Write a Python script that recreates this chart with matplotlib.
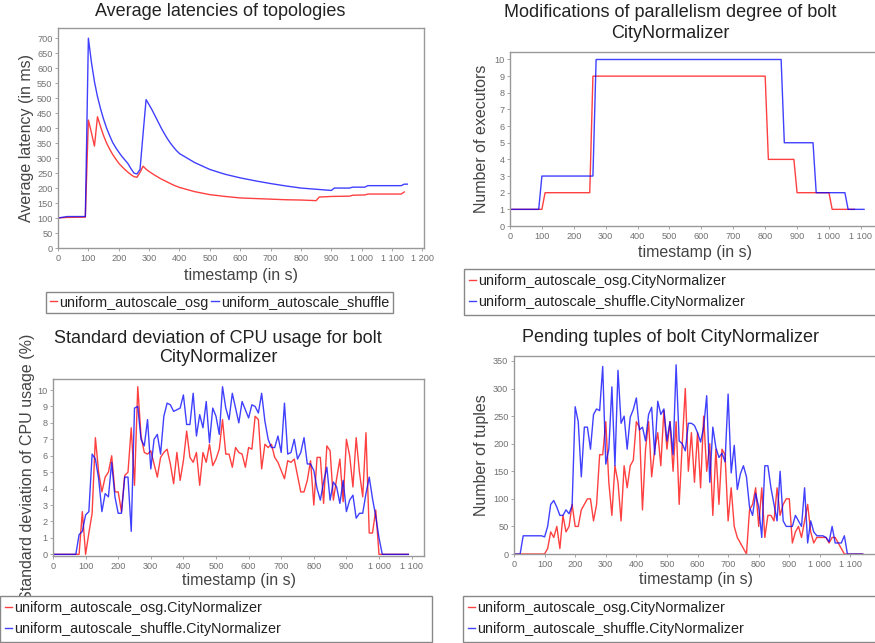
import matplotlib
matplotlib.use("Agg")
import matplotlib.pyplot as plt
from matplotlib.ticker import FuncFormatter, MultipleLocator

plt.rcParams['font.family'] = ['Liberation Sans', 'DejaVu Sans']

W, H = 875, 643

OSG = "uniform_autoscale_osg"
SHUFFLE = "uniform_autoscale_shuffle"

# Average latency (ms)
lat_t_osg = [0, 10, 30, 90, 100, 110, 120, 130, 140, 150, 160, 170, 180, 190, 200,
             210, 220, 230, 240, 250, 260, 270, 280, 290, 300, 320, 340, 360, 380,
             400, 450, 500, 550, 600, 650, 700, 750, 800, 850, 860, 900, 960, 970,
             1010, 1020, 1130, 1140]
lat_osg = [100, 101, 102, 103, 427, 385, 340, 438, 405, 375, 350, 330, 312, 297, 283,
           272, 262, 253, 245, 238, 236, 252, 273, 263, 255, 242, 230, 220, 210,
           202, 188, 178, 172, 167, 165, 163, 161, 160, 158, 170, 172, 173, 176,
           177, 180, 180, 187]
lat_t_shuffle = [0, 30, 90, 100, 110, 120, 130, 140, 150, 160, 170, 180, 190, 200,
                 210, 220, 230, 240, 250, 260, 270, 280, 290, 300, 310, 320, 330, 340,
                 350, 360, 370, 380, 390, 400, 450, 500, 550, 600, 650, 700, 750, 800,
                 850, 900, 910, 960, 970, 1010, 1020, 1130, 1140, 1150]
lat_shuffle = [100, 105, 105, 700, 620, 555, 505, 465, 430, 400, 375, 352, 335, 320,
               306, 294, 282, 265, 250, 247, 262, 380, 495, 478, 460, 440, 420, 400,
               382, 365, 350, 337, 325, 315, 285, 262, 246, 234, 224, 215, 207, 200,
               196, 192, 200, 200, 203, 203, 208, 208, 213, 213]

# Number of executors of CityNormalizer
exec_t_osg = [0, 100, 110, 250, 260, 800, 810, 890, 900, 1000, 1010, 1080]
exec_osg = [1, 1, 2, 2, 9, 9, 4, 4, 2, 2, 1, 1]
exec_t_shuffle = [0, 90, 100, 260, 270, 850, 860, 950, 960, 1050, 1060, 1110]
exec_shuffle = [1, 1, 3, 3, 10, 10, 5, 5, 2, 2, 1, 1]

# Standard deviation of CPU usage (%), one sample every 10 s
cpu_t = list(range(0, 1100, 10))
cpu_osg = [
    0, 0, 0, 0, 0, 0, 0, 0, 0, 2.6,                  # 0-90
    0, 1.3, 2.5, 7.1, 5.0, 3.8, 4.7, 5.0, 6.0, 3.8,  # 100-190
    3.8, 2.6, 4.8, 5.0, 7.7, 4.2, 10.2, 7.2, 6.2, 6.1,
    6.3, 5.5, 4.7, 5.9, 6.2, 6.4, 5.5, 4.3, 6.2, 4.5,
    5.7, 7.5, 5.9, 5.6, 6.2, 4.2, 6.2, 5.6, 6.7, 5.4,
    5.8, 6.4, 8.2, 6.1, 6.1, 5.3, 6.5, 6.2, 6.1, 5.3,
    6.5, 6.4, 8.4, 8.2, 5.2, 6.7, 6.5, 6.7, 5.9, 5.6,
    5.1, 4.6, 5.7, 5.6, 5.8, 4.8, 3.8, 3.8, 4.5, 5.7,
    3.0, 5.9, 5.9, 3.1, 6.6, 6.3, 3.3, 4.6, 5.8, 3.2,
    7.0, 6.0, 4.1, 7.1, 5.0, 3.5, 7.4, 1.3, 1.3, 2.7,
    0, 0, 0, 0, 0, 0, 0, 0, 0, 0,                    # 1000-1090
]
cpu_shuffle = [
    0, 0, 0, 0, 0, 0, 0, 0, 1.2, 1.4,
    2.4, 2.6, 6.1, 5.8, 4.6, 2.6, 3.7, 3.5, 5.6, 3.5,
    2.5, 2.5, 4.7, 4.7, 1.4, 8.9, 9.0, 7.0, 6.6, 8.2,
    5.2, 7.0, 7.3, 6.1, 8.4, 9.2, 9.1, 8.7, 8.8, 8.9,
    9.7, 7.9, 7.9, 9.8, 7.2, 8.5, 7.7, 9.3, 6.8, 8.9,
    8.4, 7.3, 10.2, 8.9, 8.2, 9.8, 8.9, 8.0, 9.3, 8.8,
    8.3, 9.1, 9.0, 8.6, 9.8, 8.1, 7.0, 6.5, 6.5, 7.2,
    6.2, 9.2, 6.1, 6.2, 7.0, 5.8, 6.2, 7.1, 5.5, 5.5,
    5.1, 4.0, 3.3, 4.4, 5.3, 3.3, 4.4, 4.1, 3.1, 4.5,
    2.6, 3.3, 3.6, 2.2, 2.5, 2.5, 3.7, 4.7, 3.4, 2.3,
    1.0, 0, 0, 0, 0, 0, 0, 0, 0, 0,
]

# Pending tuples, one sample every 10 s
tup_t = list(range(0, 1150, 10))
tup_osg = [
    0, 0, 0, 0, 0, 0, 0, 0, 0, 0,
    0, 10, 40, 30, 50, 10, 70, 40, 50, 90,
    50, 50, 80, 90, 100, 100, 60, 90, 180, 180,
    240, 130, 70, 160, 130, 60, 160, 120, 160, 170,
    240, 230, 80, 190, 240, 140, 190, 220, 160, 260,
    190, 240, 150, 240, 90, 200, 300, 150, 220, 130,
    220, 120, 250, 150, 200, 70, 190, 90, 190, 180,
    60, 120, 50, 30, 20, 10, 0, 80, 90, 120,
    50, 120, 30, 70, 70, 60, 120, 70, 90, 100,
    100, 20, 40, 50, 30, 60, 90, 40, 20, 30,
    30, 30, 30, 20, 30, 30, 20, 10, 0, 0,
    0, 0, 0, 0, 0,
]
tup_shuffle = [
    0, 0, 0, 33, 33, 33, 33, 33, 33, 33,
    31, 50, 90, 97, 85, 70, 70, 80, 73, 88,
    267, 240, 140, 230, 230, 190, 253, 263, 260, 340,
    163, 190, 303, 160, 333, 237, 250, 190, 248, 262,
    283, 225, 230, 205, 253, 266, 180, 277, 253, 263,
    205, 240, 180, 343, 205, 200, 187, 237, 237, 233,
    220, 203, 230, 287, 130, 230, 193, 175, 183, 167,
    290, 147, 197, 117, 145, 160, 140, 85, 70, 110,
    85, 30, 160, 160, 120, 90, 60, 150, 60, 50,
    50, 50, 70, 60, 50, 120, 20, 60, 40, 33,
    33, 33, 30, 22, 50, 20, 20, 20, 33, 0,
    0, 0, 0, 0, 0,
]

RED = '#ff0000'
BLUE = '#0000ff'
GRID_GRAY = '#999999'
TICK_GRAY = '#707070'
LABEL_GRAY = '#444444'


def space_thousands(v, pos):
    return f"{int(round(v)):,}".replace(",", " ")


def px_rect(left, top, right, bottom):
    return [left / W, 1 - bottom / H, (right - left) / W, (bottom - top) / H]


def style_axes(ax, xlim, ylim, xstep, ystep, xlabel, ylabel, xlab_y, ylab_x):
    ax.set_xlim(*xlim)
    ax.set_ylim(*ylim)
    ax.xaxis.set_major_locator(MultipleLocator(xstep))
    ax.yaxis.set_major_locator(MultipleLocator(ystep))
    ax.xaxis.set_major_formatter(FuncFormatter(space_thousands))
    ax.yaxis.set_major_formatter(FuncFormatter(space_thousands))
    ax.tick_params(direction='out', length=2, width=0.6, color=GRID_GRAY,
                   labelsize=6.6, labelcolor=TICK_GRAY, pad=2)
    for sp in ax.spines.values():
        sp.set_color(GRID_GRAY)
        sp.set_linewidth(1.0)
    ax.set_xlabel(xlabel, fontsize=11.5, color=LABEL_GRAY, va='center')
    ax.set_ylabel(ylabel, fontsize=11.5, color=LABEL_GRAY, va='center')
    ax.xaxis.set_label_coords(0.5, xlab_y)
    ax.yaxis.set_label_coords(ylab_x, 0.5)


def add_legend(fig, handles, labels, box, ncol=1, expand=True):
    left, top, right, bottom = box
    if expand:
        loc = 'upper left'
        anchor = (left / W, 1 - bottom / H, (right - left) / W, (bottom - top) / H)
    else:
        loc = 'center'
        anchor = ((left + right) / 2 / W, 1 - (top + bottom) / 2 / H)
    leg = fig.legend(handles, labels, loc=loc, bbox_to_anchor=anchor,
                     mode='expand' if expand else None, ncol=ncol,
                     fontsize=10.4, handlelength=0.5, handletextpad=0.15,
                     columnspacing=0.2, borderpad=0.36 if expand else 0.26,
                     labelspacing=0.5, borderaxespad=0, fancybox=False,
                     framealpha=1)
    leg.get_frame().set_edgecolor('#888888')
    leg.get_frame().set_linewidth(1.0)
    for t in leg.get_texts():
        t.set_color('#222222')
    return leg


fig = plt.figure(figsize=(W / 100, H / 100), dpi=100)
line_kw = dict(linewidth=1.0, alpha=0.75)
bolt_labels = [OSG + ".CityNormalizer", SHUFFLE + ".CityNormalizer"]

# Average latencies
ax1 = fig.add_axes(px_rect(58, 28, 424, 248))
l1, = ax1.plot(lat_t_osg, lat_osg, color=RED, **line_kw)
l2, = ax1.plot(lat_t_shuffle, lat_shuffle, color=BLUE, **line_kw)
style_axes(ax1, (0, 1205), (0, 734), 100, 50,
           "timestamp (in s)", "Average latency (in ms)", -0.123, -0.085)
fig.text(220 / W, 1 - 12 / H, "Average latencies of topologies",
         ha='center', va='center', fontsize=13, color='#222222')
add_legend(fig, [l1, l2], [OSG, SHUFFLE], (45, 291, 394, 314), ncol=2, expand=False)

# Parallelism degree
ax2 = fig.add_axes(px_rect(510, 52, 880, 226))
l1, = ax2.plot(exec_t_osg, exec_osg, color=RED, **line_kw)
l2, = ax2.plot(exec_t_shuffle, exec_shuffle, color=BLUE, **line_kw)
style_axes(ax2, (0, 1160), (0, 10.45), 100, 1,
           "timestamp (in s)", "Number of executors", -0.155, -0.076)
fig.text(670 / W, 1 - 23 / H, "Modifications of parallelism degree of bolt\nCityNormalizer",
         ha='center', va='center', multialignment='center', linespacing=1.25,
         fontsize=13, color='#222222')
add_legend(fig, [l1, l2], bolt_labels, (464, 269, 880, 314))

# CPU usage standard deviation
ax3 = fig.add_axes(px_rect(53, 379, 424, 556))
l1, = ax3.plot(cpu_t, cpu_osg, color=RED, **line_kw)
l2, = ax3.plot(cpu_t, cpu_shuffle, color=BLUE, **line_kw)
style_axes(ax3, (0, 1138), (-0.1, 10.67), 100, 1,
           "timestamp (in s)", "Standard deviation of CPU usage (%)", -0.136, -0.070)
fig.text(218 / W, 1 - 348 / H, "Standard deviation of CPU usage for bolt\nCityNormalizer",
         ha='center', va='center', multialignment='center', linespacing=1.2,
         fontsize=13, color='#222222')
add_legend(fig, [l1, l2], bolt_labels, (0, 596, 432, 642))

# Pending tuples
ax4 = fig.add_axes(px_rect(514, 356, 878, 554))
l1, = ax4.plot(tup_t, tup_osg, color=RED, **line_kw)
l2, = ax4.plot(tup_t, tup_shuffle, color=BLUE, **line_kw)
style_axes(ax4, (0, 1190), (0, 359), 100, 50,
           "timestamp (in s)", "Number of tuples", -0.131, -0.088)
fig.text(670 / W, 1 - 338 / H, "Pending tuples of bolt CityNormalizer",
         ha='center', va='center', fontsize=13, color='#222222')
add_legend(fig, [l1, l2], bolt_labels, (463, 596, 880, 642))

fig.savefig("out.png", dpi=100)
